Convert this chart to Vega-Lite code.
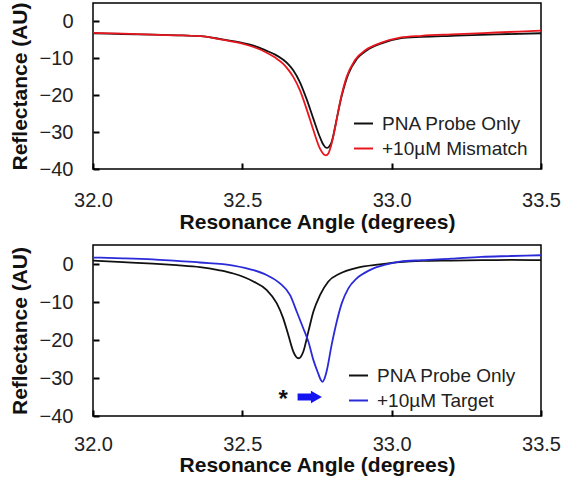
{
  "$schema": "https://vega.github.io/schema/vega-lite/v6.json",
  "padding": {"left": 8, "top": 1, "right": 5, "bottom": 5},
  "background": "white",
  "bounds": "flush",
  "spacing": 76,
  "datasets": {
    "top": [
      {"angle": 32.00, "refl": -3.2, "series": "PNA Probe Only"},
      {"angle": 32.10, "refl": -3.4, "series": "PNA Probe Only"},
      {"angle": 32.20, "refl": -3.6, "series": "PNA Probe Only"},
      {"angle": 32.30, "refl": -3.8, "series": "PNA Probe Only"},
      {"angle": 32.36, "refl": -4.0, "series": "PNA Probe Only"},
      {"angle": 32.43, "refl": -4.8, "series": "PNA Probe Only"},
      {"angle": 32.50, "refl": -5.8, "series": "PNA Probe Only"},
      {"angle": 32.54, "refl": -6.6, "series": "PNA Probe Only"},
      {"angle": 32.58, "refl": -7.9, "series": "PNA Probe Only"},
      {"angle": 32.61, "refl": -9.0, "series": "PNA Probe Only"},
      {"angle": 32.637, "refl": -10.4, "series": "PNA Probe Only"},
      {"angle": 32.655, "refl": -11.7, "series": "PNA Probe Only"},
      {"angle": 32.671, "refl": -13.3, "series": "PNA Probe Only"},
      {"angle": 32.693, "refl": -16.5, "series": "PNA Probe Only"},
      {"angle": 32.715, "refl": -21.0, "series": "PNA Probe Only"},
      {"angle": 32.738, "refl": -26.4, "series": "PNA Probe Only"},
      {"angle": 32.76, "refl": -31.4, "series": "PNA Probe Only"},
      {"angle": 32.772, "refl": -33.5, "series": "PNA Probe Only"},
      {"angle": 32.782, "refl": -34.3, "series": "PNA Probe Only"},
      {"angle": 32.79, "refl": -34.0, "series": "PNA Probe Only"},
      {"angle": 32.799, "refl": -32.7, "series": "PNA Probe Only"},
      {"angle": 32.816, "refl": -26.4, "series": "PNA Probe Only"},
      {"angle": 32.833, "refl": -20.1, "series": "PNA Probe Only"},
      {"angle": 32.855, "refl": -14.2, "series": "PNA Probe Only"},
      {"angle": 32.883, "refl": -10.2, "series": "PNA Probe Only"},
      {"angle": 32.916, "refl": -7.9, "series": "PNA Probe Only"},
      {"angle": 32.961, "refl": -6.1, "series": "PNA Probe Only"},
      {"angle": 33.028, "refl": -4.6, "series": "PNA Probe Only"},
      {"angle": 33.10, "refl": -4.2, "series": "PNA Probe Only"},
      {"angle": 33.20, "refl": -3.9, "series": "PNA Probe Only"},
      {"angle": 33.35, "refl": -3.5, "series": "PNA Probe Only"},
      {"angle": 33.50, "refl": -3.2, "series": "PNA Probe Only"},
      {"angle": 32.00, "refl": -3.1, "series": "+10µM Mismatch"},
      {"angle": 32.10, "refl": -3.3, "series": "+10µM Mismatch"},
      {"angle": 32.20, "refl": -3.6, "series": "+10µM Mismatch"},
      {"angle": 32.30, "refl": -3.8, "series": "+10µM Mismatch"},
      {"angle": 32.36, "refl": -4.0, "series": "+10µM Mismatch"},
      {"angle": 32.43, "refl": -4.9, "series": "+10µM Mismatch"},
      {"angle": 32.50, "refl": -6.0, "series": "+10µM Mismatch"},
      {"angle": 32.54, "refl": -7.0, "series": "+10µM Mismatch"},
      {"angle": 32.58, "refl": -8.4, "series": "+10µM Mismatch"},
      {"angle": 32.61, "refl": -9.8, "series": "+10µM Mismatch"},
      {"angle": 32.637, "refl": -11.5, "series": "+10µM Mismatch"},
      {"angle": 32.655, "refl": -13.2, "series": "+10µM Mismatch"},
      {"angle": 32.671, "refl": -15.1, "series": "+10µM Mismatch"},
      {"angle": 32.693, "refl": -18.7, "series": "+10µM Mismatch"},
      {"angle": 32.715, "refl": -23.7, "series": "+10µM Mismatch"},
      {"angle": 32.738, "refl": -29.5, "series": "+10µM Mismatch"},
      {"angle": 32.76, "refl": -34.5, "series": "+10µM Mismatch"},
      {"angle": 32.771, "refl": -35.9, "series": "+10µM Mismatch"},
      {"angle": 32.78, "refl": -36.3, "series": "+10µM Mismatch"},
      {"angle": 32.788, "refl": -35.8, "series": "+10µM Mismatch"},
      {"angle": 32.796, "refl": -34.0, "series": "+10µM Mismatch"},
      {"angle": 32.81, "refl": -29.1, "series": "+10µM Mismatch"},
      {"angle": 32.827, "refl": -21.9, "series": "+10µM Mismatch"},
      {"angle": 32.849, "refl": -15.1, "series": "+10µM Mismatch"},
      {"angle": 32.876, "refl": -10.6, "series": "+10µM Mismatch"},
      {"angle": 32.914, "refl": -7.7, "series": "+10µM Mismatch"},
      {"angle": 32.961, "refl": -5.9, "series": "+10µM Mismatch"},
      {"angle": 33.028, "refl": -4.4, "series": "+10µM Mismatch"},
      {"angle": 33.10, "refl": -3.9, "series": "+10µM Mismatch"},
      {"angle": 33.20, "refl": -3.5, "series": "+10µM Mismatch"},
      {"angle": 33.35, "refl": -3.0, "series": "+10µM Mismatch"},
      {"angle": 33.50, "refl": -2.5, "series": "+10µM Mismatch"}
    ],
    "bottom": [
      {"angle": 32.00, "refl": 0.9, "series": "PNA Probe Only"},
      {"angle": 32.10, "refl": 0.5, "series": "PNA Probe Only"},
      {"angle": 32.20, "refl": 0.1, "series": "PNA Probe Only"},
      {"angle": 32.28, "refl": -0.3, "series": "PNA Probe Only"},
      {"angle": 32.358, "refl": -0.8, "series": "PNA Probe Only"},
      {"angle": 32.42, "refl": -1.6, "series": "PNA Probe Only"},
      {"angle": 32.47, "refl": -2.5, "series": "PNA Probe Only"},
      {"angle": 32.537, "refl": -4.6, "series": "PNA Probe Only"},
      {"angle": 32.581, "refl": -6.8, "series": "PNA Probe Only"},
      {"angle": 32.615, "refl": -10.3, "series": "PNA Probe Only"},
      {"angle": 32.637, "refl": -14.3, "series": "PNA Probe Only"},
      {"angle": 32.654, "refl": -18.7, "series": "PNA Probe Only"},
      {"angle": 32.671, "refl": -23.1, "series": "PNA Probe Only"},
      {"angle": 32.68, "refl": -24.4, "series": "PNA Probe Only"},
      {"angle": 32.688, "refl": -24.8, "series": "PNA Probe Only"},
      {"angle": 32.696, "refl": -24.4, "series": "PNA Probe Only"},
      {"angle": 32.704, "refl": -23.1, "series": "PNA Probe Only"},
      {"angle": 32.721, "refl": -17.8, "series": "PNA Probe Only"},
      {"angle": 32.738, "refl": -12.5, "series": "PNA Probe Only"},
      {"angle": 32.76, "refl": -8.2, "series": "PNA Probe Only"},
      {"angle": 32.788, "refl": -4.6, "series": "PNA Probe Only"},
      {"angle": 32.827, "refl": -2.5, "series": "PNA Probe Only"},
      {"angle": 32.883, "refl": -1.0, "series": "PNA Probe Only"},
      {"angle": 32.961, "refl": -0.1, "series": "PNA Probe Only"},
      {"angle": 33.028, "refl": 0.5, "series": "PNA Probe Only"},
      {"angle": 33.10, "refl": 0.8, "series": "PNA Probe Only"},
      {"angle": 33.20, "refl": 0.9, "series": "PNA Probe Only"},
      {"angle": 33.30, "refl": 1.0, "series": "PNA Probe Only"},
      {"angle": 33.40, "refl": 1.1, "series": "PNA Probe Only"},
      {"angle": 33.50, "refl": 1.0, "series": "PNA Probe Only"},
      {"angle": 32.00, "refl": 1.7, "series": "+10µM Target"},
      {"angle": 32.10, "refl": 1.5, "series": "+10µM Target"},
      {"angle": 32.20, "refl": 1.2, "series": "+10µM Target"},
      {"angle": 32.28, "refl": 0.8, "series": "+10µM Target"},
      {"angle": 32.358, "refl": 0.4, "series": "+10µM Target"},
      {"angle": 32.47, "refl": -0.4, "series": "+10µM Target"},
      {"angle": 32.537, "refl": -1.6, "series": "+10µM Target"},
      {"angle": 32.581, "refl": -2.9, "series": "+10µM Target"},
      {"angle": 32.626, "refl": -5.1, "series": "+10µM Target"},
      {"angle": 32.66, "refl": -8.2, "series": "+10µM Target"},
      {"angle": 32.682, "refl": -12.5, "series": "+10µM Target"},
      {"angle": 32.704, "refl": -16.9, "series": "+10µM Target"},
      {"angle": 32.721, "refl": -20.4, "series": "+10µM Target"},
      {"angle": 32.738, "refl": -25.3, "series": "+10µM Target"},
      {"angle": 32.754, "refl": -28.8, "series": "+10µM Target"},
      {"angle": 32.762, "refl": -30.4, "series": "+10µM Target"},
      {"angle": 32.768, "refl": -31.0, "series": "+10µM Target"},
      {"angle": 32.775, "refl": -30.2, "series": "+10µM Target"},
      {"angle": 32.782, "refl": -28.3, "series": "+10µM Target"},
      {"angle": 32.799, "refl": -21.3, "series": "+10µM Target"},
      {"angle": 32.816, "refl": -15.2, "series": "+10µM Target"},
      {"angle": 32.833, "refl": -10.3, "series": "+10µM Target"},
      {"angle": 32.855, "refl": -6.4, "series": "+10µM Target"},
      {"angle": 32.883, "refl": -3.8, "series": "+10µM Target"},
      {"angle": 32.927, "refl": -1.6, "series": "+10µM Target"},
      {"angle": 32.983, "refl": -0.1, "series": "+10µM Target"},
      {"angle": 33.028, "refl": 0.6, "series": "+10µM Target"},
      {"angle": 33.10, "refl": 1.0, "series": "+10µM Target"},
      {"angle": 33.20, "refl": 1.4, "series": "+10µM Target"},
      {"angle": 33.30, "refl": 1.9, "series": "+10µM Target"},
      {"angle": 33.40, "refl": 2.1, "series": "+10µM Target"},
      {"angle": 33.50, "refl": 2.3, "series": "+10µM Target"}
    ],
    "arrow": [
      {"x1": 32.685, "x2": 32.738, "y": -35.0, "head": 32.748, "star": 32.637, "label": "*"}
    ]
  },
  "config": {
    "font": "Liberation Sans",
    "view": {"stroke": "black", "strokeWidth": 1.5},
    "axis": {
      "grid": false,
      "domain": false,
      "ticks": true,
      "offset": -6,
      "tickSize": 6,
      "tickColor": "black",
      "tickWidth": 2,
      "zindex": 1,
      "labelFlush": false,
      "labelFont": "Liberation Sans",
      "labelFontSize": 20,
      "labelColor": "#222222",
      "titleFont": "Liberation Sans",
      "titleFontSize": 21,
      "titleFontWeight": "bold",
      "titleColor": "#111111"
    },
    "legend": {
      "labelFont": "Liberation Sans",
      "labelFontSize": 19,
      "labelColor": "#222222",
      "symbolType": "stroke",
      "symbolSize": 361,
      "symbolStrokeWidth": 2,
      "labelOffset": 8,
      "padding": 0,
      "rowPadding": 4
    }
  },
  "resolve": {"scale": {"color": "independent"}, "legend": {"color": "independent"}},
  "vconcat": [
    {
      "width": 448,
      "height": 166,
      "data": {"name": "top"},
      "mark": {"type": "line", "strokeWidth": 1.8, "interpolate": "monotone"},
      "encoding": {
        "x": {"field": "angle", "type": "quantitative",
              "scale": {"domain": [32, 33.5], "nice": false, "zero": false},
              "axis": {"title": "Resonance Angle (degrees)", "values": [32.0, 32.5, 33.0, 33.5], "format": ".1f", "labelPadding": 21, "titlePadding": 1}},
        "y": {"field": "refl", "type": "quantitative",
              "scale": {"domain": [-40, 5], "nice": false, "zero": false},
              "axis": {"title": "Reflectance (AU)", "values": [0, -10, -20, -30, -40], "labelPadding": 20, "titlePadding": 9}},
        "color": {"field": "series", "type": "nominal",
                  "scale": {"domain": ["PNA Probe Only", "+10µM Mismatch"], "range": ["#111111", "#e8161e"]},
                  "legend": {"title": null, "orient": "none", "legendX": 260, "legendY": 110}}
      }
    },
    {
      "width": 448,
      "height": 171,
      "layer": [
        {
          "data": {"name": "bottom"},
          "mark": {"type": "line", "strokeWidth": 1.8, "interpolate": "monotone"},
          "encoding": {
            "x": {"field": "angle", "type": "quantitative",
                  "scale": {"domain": [32, 33.5], "nice": false, "zero": false},
                  "axis": {"title": "Resonance Angle (degrees)", "values": [32.0, 32.5, 33.0, 33.5], "format": ".1f", "labelPadding": 18, "titlePadding": 0}},
            "y": {"field": "refl", "type": "quantitative",
                  "scale": {"domain": [-40, 5], "nice": false, "zero": false},
                  "axis": {"title": "Reflectance (AU)", "values": [0, -10, -20, -30, -40], "labelPadding": 20, "titlePadding": 9}},
            "color": {"field": "series", "type": "nominal",
                      "scale": {"domain": ["PNA Probe Only", "+10µM Target"], "range": ["#111111", "#2a2ad8"]},
                      "legend": {"title": null, "orient": "none", "legendX": 255, "legendY": 120}}
          }
        },
        {
          "data": {"name": "arrow"},
          "mark": {"type": "rule", "color": "#1414f0", "strokeWidth": 7},
          "encoding": {
            "x": {"field": "x1", "type": "quantitative"},
            "x2": {"field": "x2"},
            "y": {"field": "y", "type": "quantitative"}
          }
        },
        {
          "data": {"name": "arrow"},
          "mark": {"type": "point", "shape": "triangle-right", "filled": true, "color": "#1414f0", "size": 160, "opacity": 1},
          "encoding": {
            "x": {"field": "head", "type": "quantitative"},
            "y": {"field": "y", "type": "quantitative"}
          }
        },
        {
          "data": {"name": "arrow"},
          "mark": {"type": "text", "fontSize": 24, "fontWeight": "bold", "color": "#111111", "baseline": "middle", "dy": 3},
          "encoding": {
            "x": {"field": "star", "type": "quantitative"},
            "y": {"field": "y", "type": "quantitative"},
            "text": {"field": "label"}
          }
        }
      ]
    }
  ]
}
